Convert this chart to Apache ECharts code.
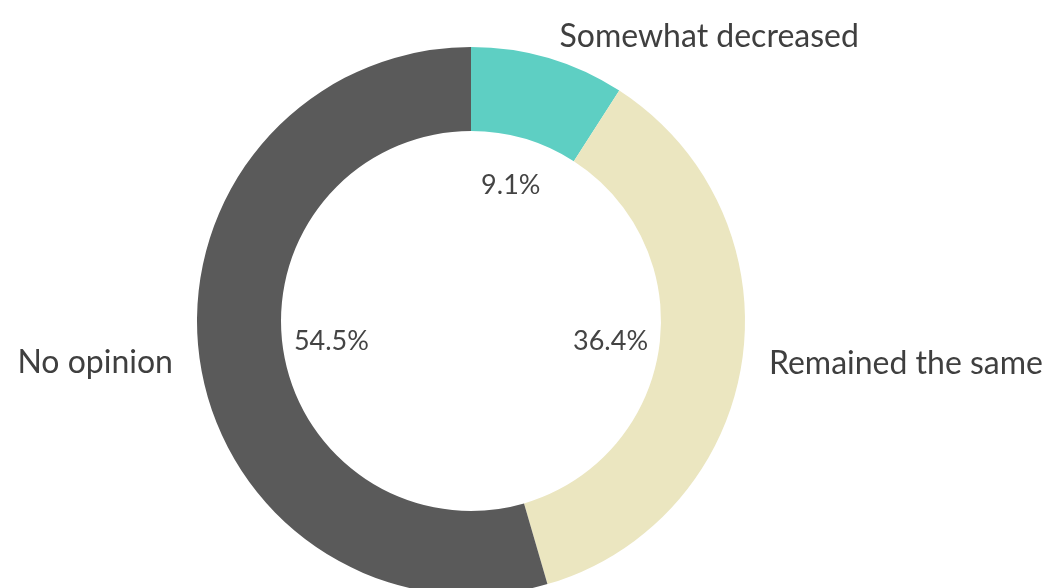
<!DOCTYPE html>
<html>
<head>
<meta charset="utf-8">
<script src="https://cdn.jsdelivr.net/npm/echarts@6/dist/echarts.min.js"></script>
<style>
html,body{margin:0;padding:0;background:#fff;}
#chart{width:1057px;height:588px;}
</style>
</head>
<body>
<div id="chart"></div>
<script>
const categories = ['Somewhat decreased', 'Remained the same', 'No opinion'];
const values = [9.1, 36.4, 54.5];
const percentLabels = ['9.1%', '36.4%', '54.5%'];
const colors = ['#5ecfc3', '#ebe6c0', '#5a5a5a'];

const chart = echarts.init(document.getElementById('chart'));
const fontFamily = '"Source Sans Pro", Lato, "Noto Sans", sans-serif';

const ringData = categories.map((c, i) => ({ name: c, value: values[i], itemStyle: { color: colors[i] } }));
const innerData = categories.map((c, i) => ({ name: percentLabels[i], value: values[i] }));

chart.setOption({
  animation: false,
  backgroundColor: '#ffffff',
  series: [
    {
      type: 'pie',
      center: [471, 321],
      radius: [190, 274],
      startAngle: 90,
      clockwise: true,
      avoidLabelOverlap: false,
      silent: true,
      data: ringData,
      label: {
        show: true,
        position: 'outside',
        formatter: '{b}',
        color: '#3f3f3f',
        fontSize: 32,
        fontFamily: fontFamily
      },
      labelLine: { show: false, length: 22, length2: 0 }
    },
    {
      type: 'pie',
      center: [471, 321],
      radius: [0, 276],
      startAngle: 90,
      clockwise: true,
      silent: true,
      data: innerData,
      itemStyle: { color: 'rgba(0,0,0,0)' },
      label: {
        show: true,
        position: 'inside',
        formatter: '{b}',
        color: '#444444',
        fontSize: 27,
        fontFamily: fontFamily
      },
      labelLine: { show: false }
    }
  ]
});
</script>
</body>
</html>
